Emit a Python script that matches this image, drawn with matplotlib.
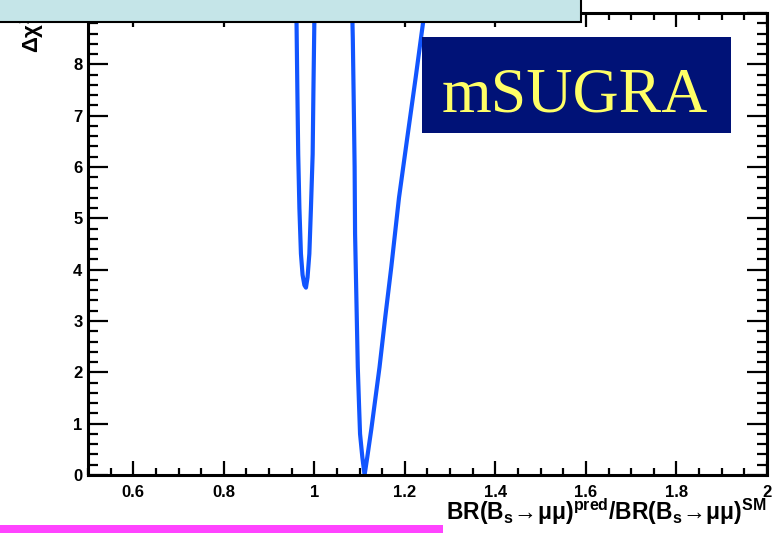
import matplotlib
matplotlib.use("Agg")
import matplotlib.pyplot as plt
from matplotlib.patches import Rectangle
from matplotlib.ticker import FixedLocator, MultipleLocator

plt.rcParams["mathtext.fontset"] = "custom"
plt.rcParams["mathtext.rm"] = "Liberation Sans:bold"
plt.rcParams["mathtext.it"] = "Liberation Sans:bold"
plt.rcParams["mathtext.bf"] = "Liberation Sans:bold"

# Delta chi^2 profile vs predicted/SM branching ratio, two minima
ratio_dip1 = [0.9595, 0.9607, 0.9625, 0.9644, 0.9670, 0.9704, 0.9740, 0.9780,
              0.9815, 0.9850, 0.9890, 0.9925, 0.9963, 0.9980, 1.0000, 1.0005]
dchi2_dip1 = [9.3, 8.8, 7.5, 6.25, 5.2, 4.31, 3.9, 3.7,
              3.65, 3.85, 4.31, 5.2, 6.25, 7.5, 8.8, 9.3]

ratio_dip2 = [1.083, 1.085, 1.087, 1.089, 1.090, 1.093, 1.096, 1.099, 1.101,
              1.106, 1.111, 1.117, 1.126, 1.135, 1.144, 1.157, 1.170, 1.187,
              1.205, 1.224, 1.240, 1.246]
dchi2_dip2 = [9.3, 8.5, 7.3, 6.0, 4.7, 3.4, 2.1, 1.3, 0.8,
              0.35, 0.0, 0.35, 0.9, 1.5, 2.1, 3.1, 4.05, 5.4,
              6.55, 7.75, 8.8, 9.3]

x_ticks = [0.6, 0.8, 1.0, 1.2, 1.4, 1.6, 1.8, 2.0]
x_tick_labels = ["0.6", "0.8", "1", "1.2", "1.4", "1.6", "1.8", "2"]
y_ticks = [0, 1, 2, 3, 4, 5, 6, 7, 8, 9]
y_tick_labels = ["0", "1", "2", "3", "4", "5", "6", "7", "8", "9"]

W, H = 779, 533
fig = plt.figure(figsize=(W / 100, H / 100), dpi=100)
ax = fig.add_axes([88 / W, (H - 475) / H, (767 - 88) / W, (475 - 13) / H])

curve_color = "#1155ff"
ax.plot(ratio_dip1, dchi2_dip1, color=curve_color, lw=3.0,
        solid_capstyle="round", solid_joinstyle="round")
ax.plot(ratio_dip2, dchi2_dip2, color=curve_color, lw=3.0,
        solid_capstyle="round", solid_joinstyle="round")

ax.set_xlim(0.5, 2.0)
ax.set_ylim(0, 9)

ax.xaxis.set_major_locator(FixedLocator(x_ticks))
ax.set_xticklabels(x_tick_labels)
ax.xaxis.set_minor_locator(MultipleLocator(0.05))
ax.yaxis.set_major_locator(FixedLocator(y_ticks))
ax.set_yticklabels(y_tick_labels)
ax.yaxis.set_minor_locator(MultipleLocator(0.2))

for s in ax.spines.values():
    s.set_linewidth(2.2)

ax.tick_params(axis="both", which="both", direction="in", top=True, right=True,
               width=1.6, color="black")
ax.tick_params(axis="x", which="major", length=10, pad=7)
ax.tick_params(axis="x", which="minor", length=5)
ax.tick_params(axis="y", which="major", length=14.5, pad=4)
ax.tick_params(axis="y", which="minor", length=7)
for lab in ax.get_xticklabels() + ax.get_yticklabels():
    lab.set_fontfamily("Liberation Sans")
    lab.set_fontweight("bold")
    lab.set_fontsize(12)

# axis titles
fig.text(767 / W, (H - 520) / H,
         r"$\mathrm{BR(B_s\!\rightarrow\!\mu\mu)^{pred}/BR(B_s\!\rightarrow\!\mu\mu)^{SM}}$",
         ha="right", va="baseline", fontsize=16.5)
fig.text(32 / W, (H - 13) / H, r"$\Delta\chi^2$", rotation=90,
         ha="center", va="top", fontsize=16, family="Liberation Sans")

# model label
fig.patches.append(Rectangle((422 / W, (H - 133) / H), 309 / W, 96 / H,
                             transform=fig.transFigure, facecolor="#001277",
                             edgecolor="none", zorder=5))
fig.text(575 / W, (H - 112) / H, "mSUGRA", ha="center", va="baseline",
         family="Liberation Serif", fontsize=46, color="#ffff66", zorder=6)

# header banner and footer stripe
fig.patches.append(Rectangle((-0.01, (H - 22) / H), 581 / W + 0.01, 0.1,
                             transform=fig.transFigure, facecolor="#c5e5e8",
                             edgecolor="black", lw=1.5, zorder=7))
fig.patches.append(Rectangle((0, 0), 443 / W, 8 / H, transform=fig.transFigure,
                             facecolor="#ff44ff", edgecolor="none", zorder=7))

fig.savefig("out.png", dpi=100)
